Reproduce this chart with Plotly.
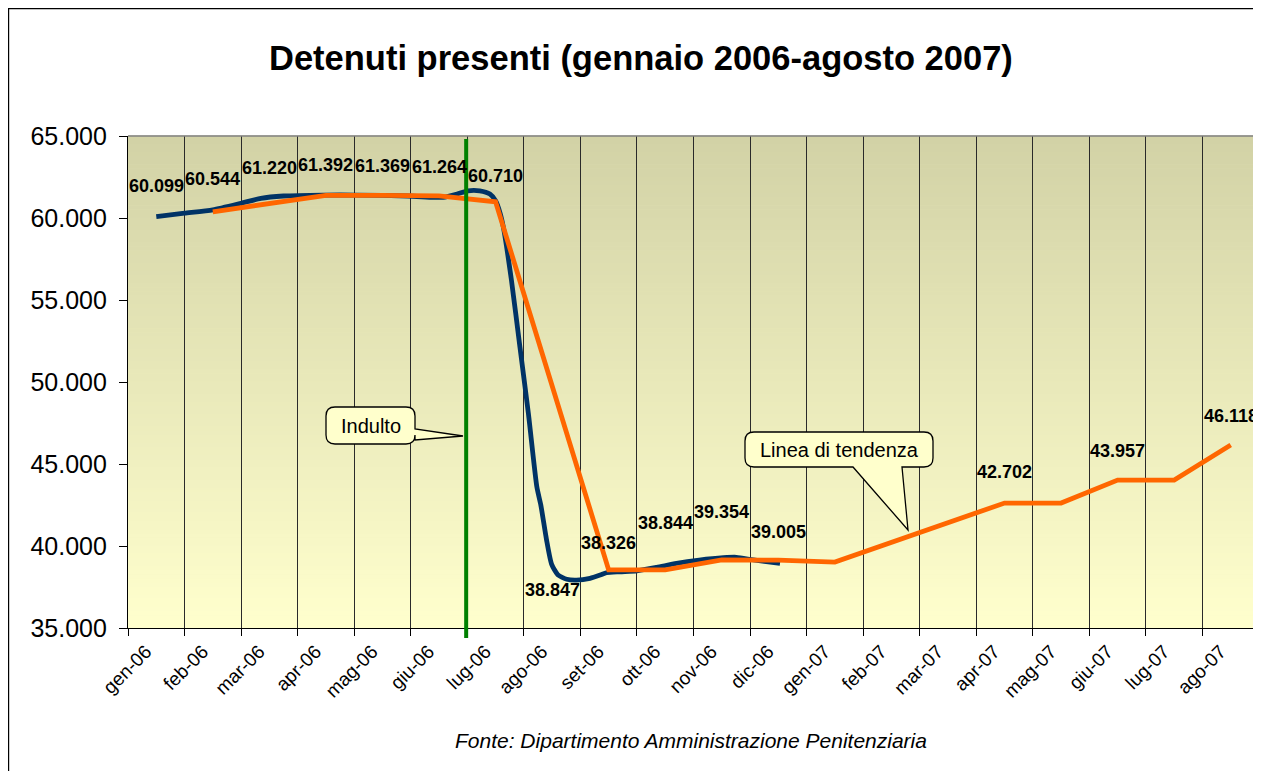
import plotly.graph_objects as go

# ---------------- data ----------------
months = ['gen-06', 'feb-06', 'mar-06', 'apr-06', 'mag-06', 'giu-06', 'lug-06',
          'ago-06', 'set-06', 'ott-06', 'nov-06', 'dic-06', 'gen-07', 'feb-07',
          'mar-07', 'apr-07', 'mag-07', 'giu-07', 'lug-07', 'ago-07']

y_tick_values = [35000, 40000, 45000, 50000, 55000, 60000, 65000]
y_tick_labels = ['35.000', '40.000', '45.000', '50.000', '55.000', '60.000', '65.000']

# monthly figures printed on the chart (None = no label)
label_values = [60099, 60544, 61220, 61392, 61369, 61264, 60710, 38847, 38326,
                38844, 39354, 39005, None, None, None, 42702, None, 43957, None, 46118]

# detenuti presenti (blue smoothed line): time in months from gen-06, value
blue_t = [0.0, 0.5, 1.0, 1.5, 1.85, 2.25, 2.95, 3.55, 4.45, 4.9, 5.07, 5.32, 5.51,
          5.72, 5.9, 6.0, 6.08, 6.14, 6.28, 6.43, 6.58, 6.73, 6.8, 6.9, 6.99, 7.1,
          7.26, 7.43, 7.67, 7.85, 7.96, 8.2, 8.5, 8.85, 9.2, 9.6, 10.03, 10.26,
          10.56, 11.03]
blue_v = [60080, 60290, 60500, 60900, 61200, 61340, 61400, 61400, 61340, 61260,
          61260, 61460, 61660, 61660, 61460, 61050, 60300, 59400, 56220, 52150,
          48090, 43600, 42500, 40400, 38900, 38250, 37970, 37920, 38030, 38230,
          38370, 38430, 38490, 38700, 38940, 39140, 39285, 39310, 39150, 38940]

# linea di tendenza (orange), one value per month, None where no vertex
trend_values = [None, 60380, 60900, 61380, 61380, 61350, 60990, None, 38540, 38540,
                39150, 39140, 39020, None, None, 42620, 42620, 44020, 44020, 46160]

indulto_pos = 5.48  # month position of the "Indulto" marker

# ---------------- geometry / style ----------------
OFF = 8                      # page offset of the figure (body margin)
W, H = 1261 - OFF, 771 - OFF
L, R, T, B = 120, 1251, 128, 620   # plot area in figure pixels
FONT = 'Liberation Sans, Arial, sans-serif'
TICK_LABEL_SHIFT = -0.18


def px(x):   # page pixel -> paper
    return (x - OFF - L) / (R - L)


def py(y):
    return (B - (y - OFF)) / (B - T)


label_shift = {7: -25, 9: 42, 10: 45}

x_pos = list(range(len(months)))

fig = go.Figure()

fig.add_trace(go.Scatter(
    x=blue_t, y=blue_v, mode='lines',
    line=dict(color='#003366', width=4.8, shape='spline', smoothing=0.6),
    hoverinfo='skip'))

fig.add_trace(go.Scatter(
    x=x_pos, y=trend_values, mode='lines', connectgaps=True,
    line=dict(color='#FF6600', width=4.8),
    hoverinfo='skip'))

shapes = []
# vertical gradient background
n = 120
top_c = (210, 210, 166)
bot_c = (255, 255, 205)
for i in range(n):
    f = i / (n - 1)
    c = tuple(round(top_c[k] + (bot_c[k] - top_c[k]) * f) for k in range(3))
    shapes.append(dict(type='rect', xref='paper', yref='paper', x0=0, x1=1,
                       y0=1 - (i + 1) / n, y1=1 - i / n + 0.001,
                       fillcolor='rgb(%d,%d,%d)' % c, line=dict(width=0),
                       layer='below'))
# plot border top/right (gray)
shapes.append(dict(type='line', xref='paper', yref='paper', x0=0, x1=1, y0=1, y1=1,
                   line=dict(color='#808080', width=1.5)))
shapes.append(dict(type='line', xref='paper', yref='paper', x0=1, x1=1, y0=0, y1=1,
                   line=dict(color='#808080', width=1.5)))
# outer frame
shapes.append(dict(type='rect', xref='paper', yref='paper', x0=px(8.2), x1=px(1300),
                   y0=py(820), y1=py(8.2), line=dict(color='black', width=2),
                   fillcolor='rgba(0,0,0,0)'))
# Indulto vertical line
shapes.append(dict(type='line', xref='x', yref='paper', x0=indulto_pos, x1=indulto_pos,
                   y0=py(638), y1=py(139), line=dict(color='#008000', width=4),
                   layer='above'))


def P(x, y):
    return '%.5f,%.5f' % (px(x), py(y))


def callout_right(x0, y0, x1, y1, r, bt, bb, tip):
    return ('M ' + P(x0 + r, y0) + ' L ' + P(x1 - r, y0) + ' Q ' + P(x1, y0) + ' ' + P(x1, y0 + r) +
            ' L ' + P(x1, bt) + ' L ' + P(*tip) + ' L ' + P(x1, bb) +
            ' L ' + P(x1, y1 - r) + ' Q ' + P(x1, y1) + ' ' + P(x1 - r, y1) +
            ' L ' + P(x0 + r, y1) + ' Q ' + P(x0, y1) + ' ' + P(x0, y1 - r) +
            ' L ' + P(x0, y0 + r) + ' Q ' + P(x0, y0) + ' ' + P(x0 + r, y0) + ' Z')


def callout_bottom(x0, y0, x1, y1, r, bl, br, tip):
    return ('M ' + P(x0 + r, y0) + ' L ' + P(x1 - r, y0) + ' Q ' + P(x1, y0) + ' ' + P(x1, y0 + r) +
            ' L ' + P(x1, y1 - r) + ' Q ' + P(x1, y1) + ' ' + P(x1 - r, y1) +
            ' L ' + P(br, y1) + ' L ' + P(*tip) + ' L ' + P(bl, y1) +
            ' L ' + P(x0 + r, y1) + ' Q ' + P(x0, y1) + ' ' + P(x0, y1 - r) +
            ' L ' + P(x0, y0 + r) + ' Q ' + P(x0, y0) + ' ' + P(x0 + r, y0) + ' Z')


shapes.append(dict(type='path', xref='paper', yref='paper',
                   path=callout_right(326, 407, 415, 444, 9, 429, 440, (463, 436)),
                   fillcolor='#FFFFCC', line=dict(color='black', width=1.3),
                   layer='above'))
shapes.append(dict(type='path', xref='paper', yref='paper',
                   path=callout_bottom(745, 432, 933, 467, 9, 853, 902, (908, 530)),
                   fillcolor='#FFFFCC', line=dict(color='black', width=1.3),
                   layer='above'))

annotations = []
# title
annotations.append(dict(xref='paper', yref='paper', x=px(641), y=py(58),
                        text='<b>Detenuti presenti (gennaio 2006-agosto 2007)</b>',
                        showarrow=False, xanchor='center', yanchor='middle',
                        font=dict(family=FONT, size=34.5, color='black')))
# source
annotations.append(dict(xref='paper', yref='paper', x=px(691), y=py(740),
                        text='<i>Fonte: Dipartimento Amministrazione Penitenziaria</i>',
                        showarrow=False, xanchor='center', yanchor='middle',
                        font=dict(family=FONT, size=21, color='black')))
# data labels
for i, v in enumerate(label_values):
    if v is None:
        continue
    annotations.append(dict(x=x_pos[i], y=v, xref='x', yref='y',
                            text='<b>' + f'{v:,}'.replace(',', '.') + '</b>',
                            showarrow=False, xanchor='center', yanchor='middle',
                            yshift=label_shift.get(i, 30),
                            font=dict(family=FONT, size=18, color='black')))
# callout texts
annotations.append(dict(xref='paper', yref='paper', x=px(370.5), y=py(425.5), text='Indulto',
                        showarrow=False, xanchor='center', yanchor='middle',
                        font=dict(family=FONT, size=20, color='black')))
annotations.append(dict(xref='paper', yref='paper', x=px(839), y=py(450), text='Linea di tendenza',
                        showarrow=False, xanchor='center', yanchor='middle',
                        font=dict(family=FONT, size=20, color='black')))

fig.update_layout(
    width=W, height=H,
    margin=dict(l=L, r=W - R, t=T, b=H - B, pad=0),
    paper_bgcolor='white', plot_bgcolor='rgb(235,235,190)',
    showlegend=False, hovermode=False,
    shapes=shapes, annotations=annotations,
    xaxis=dict(range=[-0.5, len(months) - 0.5],
               tickvals=[p + TICK_LABEL_SHIFT for p in x_pos], ticktext=months,
               tickangle=-45, ticks='', showgrid=False, zeroline=False,
               showline=True, linecolor='black', linewidth=1.2,
               ticklabelstandoff=4,
               tickfont=dict(family=FONT, size=19, color='black'),
               minor=dict(tickvals=[i - 0.5 for i in range(len(months) + 1)],
                          ticks='outside', ticklen=7, tickcolor='black', tickwidth=1,
                          showgrid=True, gridcolor='#2a2a2a', gridwidth=1),
               fixedrange=True),
    yaxis=dict(range=[35000, 65000], tickvals=y_tick_values, ticktext=y_tick_labels,
               ticks='outside', ticklen=8, tickcolor='black', tickwidth=1,
               showgrid=False, zeroline=False, showline=True, linecolor='black',
               linewidth=1.2, ticklabelstandoff=7,
               tickfont=dict(family=FONT, size=25, color='black'),
               fixedrange=True),
)

fig.write_html('out.html')
